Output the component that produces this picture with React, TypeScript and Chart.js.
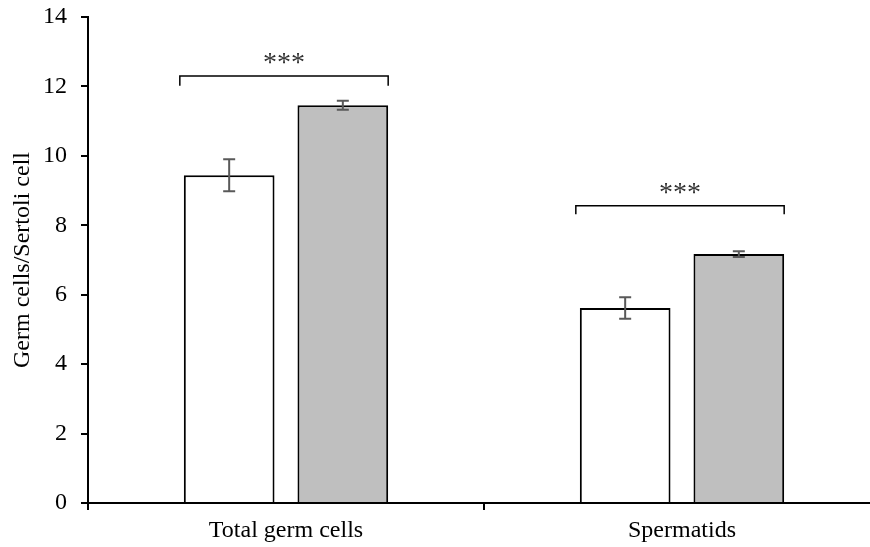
import React, { useEffect, useRef } from 'react';
import { Chart, registerables } from 'chart.js';

Chart.register(...registerables);

const categories = ['Total germ cells', 'Spermatids'];
const controlValues = [9.44, 5.62];
const treatedValues = [11.46, 7.17];
const controlErrors = [0.46, 0.31];
const treatedErrors = [0.13, 0.08];
const yTickValues = [0, 2, 4, 6, 8, 10, 12, 14];
const significanceLabels = ['***', '***'];
const bracketLevels = [12.3, 8.56];
const bracketLegLevels = [12.02, 8.32];
const yAxisTitle = 'Germ cells/Sertoli cell';

const FONT = '"Liberation Serif", "Times New Roman", serif';

const errorBarPlugin = {
  id: 'errorBars',
  afterDatasetsDraw(chart: any) {
    const ctx = chart.ctx;
    const y = chart.scales.y;
    const errs = [controlErrors, treatedErrors];
    chart.data.datasets.forEach((ds: any, di: number) => {
      const meta = chart.getDatasetMeta(di);
      meta.data.forEach((bar: any, i: number) => {
        const v = ds.data[i];
        const e = errs[di][i];
        const yTop = y.getPixelForValue(v + e);
        const yBot = y.getPixelForValue(v - e);
        ctx.save();
        ctx.strokeStyle = '#595959';
        ctx.lineWidth = 2;
        ctx.beginPath();
        ctx.moveTo(bar.x, yTop);
        ctx.lineTo(bar.x, yBot);
        ctx.moveTo(bar.x - 6, yTop);
        ctx.lineTo(bar.x + 6, yTop);
        ctx.moveTo(bar.x - 6, yBot);
        ctx.lineTo(bar.x + 6, yBot);
        ctx.stroke();
        ctx.restore();
      });
    });
  },
};

const bracketPlugin = {
  id: 'brackets',
  afterDatasetsDraw(chart: any) {
    const ctx = chart.ctx;
    const y = chart.scales.y;
    const m0 = chart.getDatasetMeta(0);
    const m1 = chart.getDatasetMeta(1);
    categories.forEach((_, i) => {
      const b0 = m0.data[i];
      const b1 = m1.data[i];
      const left = b0.x - b0.width / 2 - 4;
      const right = b1.x + b1.width / 2;
      const yb = y.getPixelForValue(bracketLevels[i]);
      const yl = y.getPixelForValue(bracketLegLevels[i]);
      ctx.save();
      ctx.strokeStyle = '#000000';
      ctx.lineWidth = 1.5;
      ctx.beginPath();
      ctx.moveTo(left, yl);
      ctx.lineTo(left, yb);
      ctx.lineTo(right, yb);
      ctx.lineTo(right, yl);
      ctx.stroke();
      ctx.fillStyle = '#333333';
      ctx.font = `28px ${FONT}`;
      ctx.textAlign = 'center';
      ctx.textBaseline = 'alphabetic';
      const txt = significanceLabels[i];
      const m = ctx.measureText(txt);
      const asc = m.actualBoundingBoxAscent || 0;
      const desc = m.actualBoundingBoxDescent || 0;
      const centerY = yb - 17.5;
      const baseline = centerY + (asc - desc) / 2;
      ctx.fillText(txt, (left + right) / 2, baseline);
      ctx.restore();
    });
  },
};

export default function App() {
  const ref = useRef<HTMLCanvasElement | null>(null);
  useEffect(() => {
    if (!ref.current) return;
    const chart = new Chart(ref.current, {
      type: 'bar',
      data: {
        labels: categories,
        datasets: [
          {
            label: 'Control',
            data: controlValues,
            backgroundColor: '#ffffff',
            borderColor: '#000000',
            borderWidth: 2,
            barPercentage: 0.798,
            categoryPercentage: 0.574,
          },
          {
            label: 'Treated',
            data: treatedValues,
            backgroundColor: '#bfbfbf',
            borderColor: '#000000',
            borderWidth: 2,
            barPercentage: 0.798,
            categoryPercentage: 0.574,
          },
        ],
      },
      options: {
        responsive: false,
        animation: false,
        devicePixelRatio: 1,
        layout: { padding: { top: 17, left: 0, right: 0, bottom: 0 } },
        plugins: {
          legend: { display: false },
          tooltip: { enabled: false },
        },
        scales: {
          x: {
            type: 'category',
            offset: true,
            grid: {
              offset: true,
              drawOnChartArea: false,
              drawTicks: true,
              tickLength: 7,
              color: '#000000',
              lineWidth: 2,
            },
            border: { display: true, color: '#000000', width: 2 },
            ticks: {
              color: '#000000',
              padding: 6,
              font: { family: FONT, size: 24 },
              maxRotation: 0,
            },
            afterFit(scale: any) {
              scale.height = 44;
              scale.paddingLeft = 0;
              scale.paddingRight = 0;
            },
          },
          y: {
            min: 0,
            max: 14,
            afterBuildTicks(scale: any) {
              scale.ticks = yTickValues.map((v) => ({ value: v }));
            },
            grid: {
              drawOnChartArea: false,
              drawTicks: true,
              tickLength: 7,
              color: '#000000',
              lineWidth: 2,
            },
            border: { display: true, color: '#000000', width: 2 },
            ticks: {
              color: '#000000',
              padding: 14,
              font: { family: FONT, size: 24 },
            },
            title: {
              display: true,
              text: yAxisTitle,
              color: '#000000',
              font: { family: FONT, size: 24 },
              padding: { top: 8, bottom: 0 },
            },
            afterFit(scale: any) {
              scale.width = 88;
              scale.paddingTop = 0;
              scale.paddingBottom = 0;
            },
          },
        },
      },
      plugins: [errorBarPlugin, bracketPlugin],
    } as any);
    return () => chart.destroy();
  }, []);

  return (
    <div
      style={{
        position: 'fixed',
        left: 0,
        top: 0,
        width: 870,
        height: 547,
        overflow: 'hidden',
        background: '#ffffff',
      }}
    >
      <canvas ref={ref} width={880} height={547} style={{ display: 'block' }} />
    </div>
  );
}
